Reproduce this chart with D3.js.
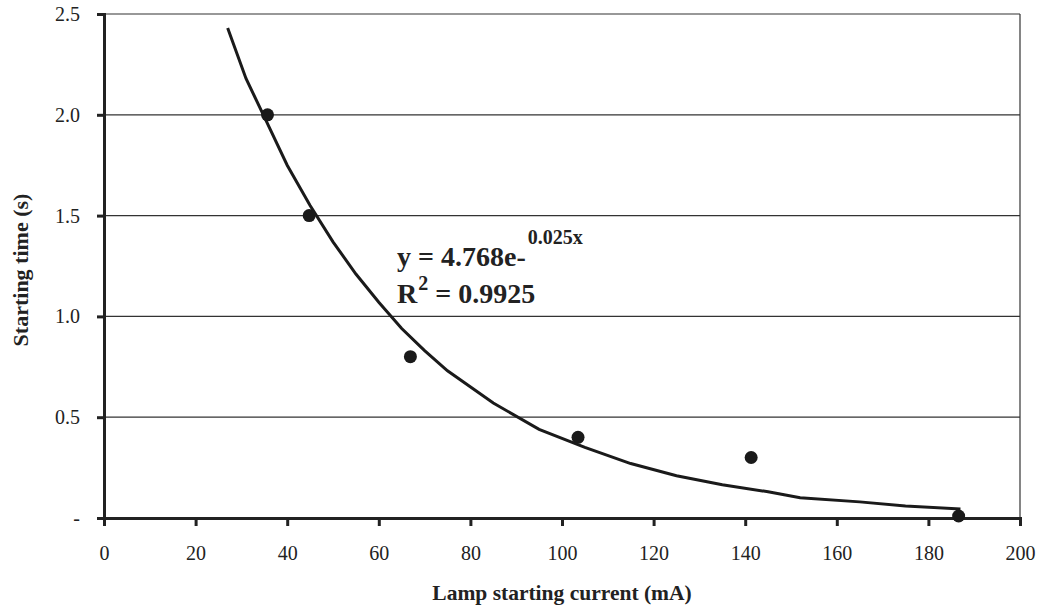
<!DOCTYPE html>
<html><head><meta charset="utf-8">
<script src="https://cdn.jsdelivr.net/npm/d3@7"></script>
<style>body{margin:0;background:#fff}svg{display:block}</style>
</head><body><svg id="c" width="1040" height="609" font-family="'Liberation Serif', 'Times New Roman', serif"></svg>
<script>
const currents = [35.7, 44.8, 66.9, 103.5, 141.3, 186.6];
const times = [2.0, 1.5, 0.8, 0.4, 0.3, 0.01];
const trendX = [27, 31, 35, 40, 45, 50, 55, 60, 65, 70, 75, 85, 95, 105, 115, 125, 135, 145, 152, 165, 175, 187];
const trendY = [2.43, 2.18, 1.99, 1.75, 1.55, 1.37, 1.21, 1.07, 0.94, 0.83, 0.73, 0.57, 0.44, 0.35, 0.27, 0.21, 0.165, 0.13, 0.10, 0.08, 0.06, 0.045];
const yTicks = [0, 0.5, 1.0, 1.5, 2.0, 2.5];
const yTickLabels = ["-", "0.5", "1.0", "1.5", "2.0", "2.5"];
const xTicks = [0, 20, 40, 60, 80, 100, 120, 140, 160, 180, 200];

const FONT = "'Liberation Serif', 'Times New Roman', serif";
const svg = d3.select("#c");
const x = d3.scaleLinear().domain([0, 200]).range([104, 1020]);
const y = d3.scaleLinear().domain([0, 2.5]).range([518, 14]);

svg.append("g").selectAll("line").data(yTicks.filter(d => d > 0)).join("line")
  .attr("x1", x(0)).attr("x2", x(200)).attr("y1", d => y(d)).attr("y2", d => y(d))
  .attr("stroke", "#333").attr("stroke-width", 1.2);
svg.append("line").attr("x1", x(200)).attr("x2", x(200)).attr("y1", y(2.5)).attr("y2", y(0))
  .attr("stroke", "#333").attr("stroke-width", 1.2);

const yAxis = d3.axisLeft(y).tickValues(yTicks).tickSize(7).tickFormat((d, i) => yTickLabels[i]);
const ga = svg.append("g").attr("transform", `translate(${x(0)},0)`).call(yAxis)
  .attr("font-family", FONT).attr("font-size", 20);
ga.select(".domain").attr("stroke", "#222").attr("stroke-width", 3);
ga.selectAll(".tick line").attr("stroke", "#222").attr("stroke-width", 3);
ga.selectAll(".tick text").attr("x", -24).attr("fill", "#222");

const xAxis = d3.axisBottom(x).tickValues(xTicks).tickSize(8).tickFormat(d3.format("d"));
const gx = svg.append("g").attr("transform", `translate(0,${y(0)})`).call(xAxis)
  .attr("font-family", FONT).attr("font-size", 20);
gx.select(".domain").attr("stroke", "#222").attr("stroke-width", 3);
gx.selectAll(".tick line").attr("stroke", "#222").attr("stroke-width", 3);
gx.selectAll(".tick text").attr("y", 28).attr("fill", "#222");

const line = d3.line().x(d => x(d[0])).y(d => y(d[1]));
svg.append("path").datum(trendX.map((d, i) => [d, trendY[i]]))
  .attr("d", line).attr("fill", "none").attr("stroke", "#1a1a1a").attr("stroke-width", 3);

svg.append("g").selectAll("circle").data(currents.map((d, i) => [d, times[i]])).join("circle")
  .attr("cx", d => x(d[0])).attr("cy", d => y(d[1])).attr("r", 6.5).attr("fill", "#1a1a1a");

const eq = svg.append("text").attr("x", 397).attr("y", 266).attr("font-size", 28).attr("font-weight", "bold").attr("fill", "#222");
eq.append("tspan").text("y = 4.768e-");
eq.append("tspan").attr("dx", 2).attr("dy", -22).attr("font-size", 20).text("0.025x");
const r2 = svg.append("text").attr("x", 397).attr("y", 303).attr("font-size", 28).attr("font-weight", "bold").attr("fill", "#222");
r2.append("tspan").text("R");
r2.append("tspan").attr("dx", 1).attr("dy", -13).attr("font-size", 20).text("2");
r2.append("tspan").attr("dy", 13).text(" = 0.9925");

svg.append("text").attr("x", 562).attr("y", 600).attr("text-anchor", "middle").attr("fill", "#222")
  .attr("font-size", 21.5).attr("font-weight", "bold").text("Lamp starting current (mA)");
svg.append("text").attr("transform", "translate(28,270) rotate(-90)").attr("text-anchor", "middle").attr("fill", "#222")
  .attr("font-size", 22).attr("font-weight", "bold").text("Starting time (s)");
</script></body></html>
